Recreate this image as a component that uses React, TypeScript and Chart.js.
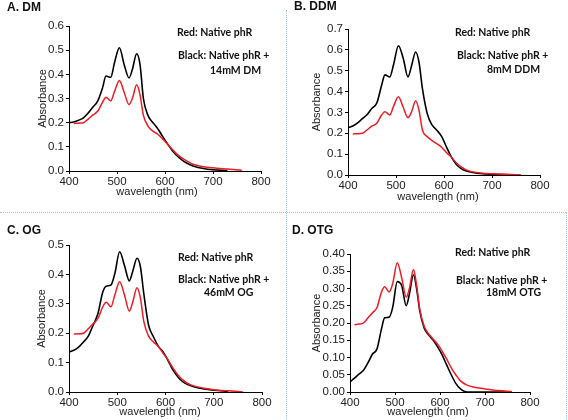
import React, { useEffect, useRef } from "react";
import { Chart, registerables } from "chart.js";
Chart.register(...registerables);

// wavelength grid (nm)
const WAVELENGTHS = [400, 410, 420, 430, 440, 450, 460, 470, 477, 487, 495, 505, 515, 525, 532, 541, 548, 555, 565, 575, 585, 595, 605, 615, 625, 635, 645, 660, 680, 700, 730, 760];

// Panel A (DM)
const NATIVE_A = [null, 0.197, 0.198, 0.2, 0.215, 0.232, 0.248, 0.285, 0.305, 0.29, 0.33, 0.375, 0.325, 0.275, 0.3, 0.357, 0.315, 0.23, 0.185, 0.165, 0.152, 0.133, 0.112, 0.09, 0.07, 0.054, 0.042, 0.027, 0.018, 0.013, 0.008, 0.003];
const DM_14MM = [0.2, 0.203, 0.21, 0.22, 0.24, 0.265, 0.29, 0.345, 0.393, 0.388, 0.45, 0.51, 0.44, 0.385, 0.42, 0.485, 0.44, 0.3, 0.228, 0.2, 0.175, 0.143, 0.113, 0.085, 0.063, 0.046, 0.033, 0.02, 0.01, 0.005, 0.002, null];

// Panel B (DDM)
const NATIVE_B = [null, 0.197, 0.198, 0.2, 0.217, 0.235, 0.248, 0.288, 0.303, 0.288, 0.33, 0.375, 0.325, 0.275, 0.3, 0.356, 0.31, 0.216, 0.184, 0.165, 0.15, 0.133, 0.108, 0.086, 0.06, 0.04, 0.026, 0.015, 0.009, 0.006, 0.003, 0.001];
const DDM_8MM = [0.227, 0.235, 0.25, 0.27, 0.29, 0.32, 0.345, 0.43, 0.48, 0.47, 0.53, 0.62, 0.56, 0.47, 0.52, 0.59, 0.54, 0.415, 0.295, 0.24, 0.215, 0.185, 0.135, 0.088, 0.053, 0.032, 0.02, 0.012, 0.006, 0.003, 0.001, null];

// Panel C (OG)
const NATIVE_C = [null, 0.197, 0.198, 0.2, 0.215, 0.232, 0.25, 0.29, 0.305, 0.29, 0.33, 0.375, 0.33, 0.275, 0.305, 0.355, 0.32, 0.24, 0.19, 0.17, 0.155, 0.132, 0.11, 0.083, 0.06, 0.042, 0.03, 0.02, 0.013, 0.008, 0.004, 0.001];
const OG_46MM = [0.136, 0.142, 0.153, 0.17, 0.19, 0.227, 0.267, 0.34, 0.36, 0.364, 0.403, 0.477, 0.43, 0.378, 0.41, 0.455, 0.426, 0.335, 0.227, 0.188, 0.156, 0.136, 0.108, 0.076, 0.053, 0.036, 0.026, 0.017, 0.01, 0.006, 0.002, null];

// Panel D (OTG)
const NATIVE_D = [null, 0.195, 0.197, 0.2, 0.215, 0.23, 0.245, 0.29, 0.305, 0.29, 0.315, 0.375, 0.33, 0.275, 0.3, 0.355, 0.31, 0.24, 0.19, 0.168, 0.153, 0.138, 0.118, 0.095, 0.07, 0.05, 0.033, 0.02, 0.013, 0.009, 0.004, 0.001];
const OTG_18MM = [0.029, 0.04, 0.052, 0.063, 0.085, 0.11, 0.125, 0.183, 0.215, 0.217, 0.246, 0.32, 0.308, 0.25, 0.284, 0.34, 0.3, 0.235, 0.185, 0.165, 0.15, 0.13, 0.107, 0.078, 0.05, 0.025, 0.01, 0.0, 0.0, 0.0, 0.0, 0.0];

// text
const PANEL_LABELS = ["A. DM", "B. DDM", "C. OG", "D. OTG"];
const RED_LABEL = "Red: Native phR";
const BLACK_LABEL = "Black: Native phR +";
const DETERGENT_LABELS = ["14mM DM", "8mM DDM", "46mM OG", "18mM OTG"];
const X_TITLE = "wavelength (nm)";
const Y_TITLE = "Absorbance";

// y axis settings per panel
const Y_MAX = [0.6, 0.7, 0.5, 0.4];
const Y_STEP = [0.1, 0.1, 0.1, 0.05];
const Y_DECIMALS = [1, 1, 1, 2];
const X_TICKS = [400, 500, 600, 700, 800];

const NATIVE = [NATIVE_A, NATIVE_B, NATIVE_C, NATIVE_D];
const TREATED = [DM_14MM, DDM_8MM, OG_46MM, OTG_18MM];

// layout (relative to each 284x210 panel)
const PANEL_W = 284;
const PANEL_H = 210;
const GEOM = [
  { ox: 0, oy: 0, L: 69, T: 26, R: 261, B: 171, yT: 43, xt: [157, 192], lab: [7, 8], red: [177, 33], blk: [178, 56], det: [210, 71] },
  { ox: 284, oy: 0, L: 64, T: 29, R: 256, B: 175, yT: 33, xt: [154, 197], lab: [10, 7], red: [171, 33], blk: [173, 56], det: [203, 70] },
  { ox: 0, oy: 210, L: 69, T: 35, R: 262, B: 182, yT: 42, xt: [160, 202], lab: [7, 21], red: [178, 48], blk: [178, 70], det: [204, 83] },
  { ox: 284, oy: 210, L: 66, T: 44, R: 246, B: 182, yT: 33, xt: [144, 202], lab: [8, 21], red: [171, 43], blk: [172, 71], det: [202, 83] },
];

const TICK_FONT = { family: "'Liberation Sans', Arial, sans-serif", size: 11.5 };
const ANN_FONT = "bold 10.5px Lato, 'Open Sans', sans-serif";

const textPlugin = {
  id: "panelText",
  afterDraw(chart: any, _args: any, opts: any) {
    const ctx = chart.ctx;
    ctx.save();
    for (const t of opts.items || []) {
      ctx.font = t.font;
      ctx.fillStyle = t.color;
      ctx.textAlign = t.align || "left";
      ctx.textBaseline = "middle";
      ctx.fillText(t.text, t.x, t.y);
    }
    ctx.restore();
  },
};

function Panel({ idx }: { idx: number }) {
  const ref = useRef<HTMLCanvasElement | null>(null);
  useEffect(() => {
    const g = GEOM[idx];
    const toPts = (arr: (number | null)[]) => WAVELENGTHS.map((w, i) => ({ x: w, y: arr[i] }));
    const chart = new Chart(ref.current as HTMLCanvasElement, {
      type: "line",
      data: {
        datasets: [
          {
            data: toPts(NATIVE[idx]) as any,
            borderColor: "#ee1c25",
            borderWidth: 1.5,
            pointRadius: 0,
            cubicInterpolationMode: "monotone",
            fill: false,
          },
          {
            data: toPts(TREATED[idx]) as any,
            borderColor: "#000000",
            borderWidth: 1.6,
            pointRadius: 0,
            cubicInterpolationMode: "monotone",
            fill: false,
          },
        ],
      },
      options: {
        animation: false,
        responsive: false,
        maintainAspectRatio: false,
        layout: { padding: { left: 0, top: g.T, right: PANEL_W - g.R, bottom: 0 } },
        plugins: {
          legend: { display: false },
          tooltip: { enabled: false },
          panelText: {
            items: [
              { text: PANEL_LABELS[idx], x: g.lab[0], y: g.lab[1], font: "bold 12px 'Liberation Sans', Arial, sans-serif", color: "#111" },
              { text: RED_LABEL, x: g.red[0], y: g.red[1], font: ANN_FONT, color: "#111" },
              { text: BLACK_LABEL, x: g.blk[0], y: g.blk[1], font: ANN_FONT, color: "#111" },
              { text: DETERGENT_LABELS[idx], x: g.det[0], y: g.det[1], font: ANN_FONT, color: "#111" },
              { text: X_TITLE, x: g.xt[0], y: g.xt[1], font: "11px 'Liberation Sans', Arial, sans-serif", color: "#222", align: "center" },
            ],
          },
        } as any,
        scales: {
          x: {
            type: "linear",
            min: 400,
            max: 800,
            afterFit: (s: any) => { s.height = PANEL_H - g.B; },
            afterBuildTicks: (s: any) => { s.ticks = X_TICKS.map((v) => ({ value: v })); },
            ticks: { font: TICK_FONT, color: "#222", padding: 1, maxRotation: 0, autoSkip: false },
            grid: { drawOnChartArea: false, drawTicks: true, tickLength: 3, color: "#000" },
            border: { display: true, color: "#000", width: 1 },
          },
          y: {
            type: "linear",
            min: 0,
            max: Y_MAX[idx],
            afterFit: (s: any) => { s.width = g.L; },
            ticks: {
              stepSize: Y_STEP[idx],
              font: TICK_FONT,
              color: "#222",
              padding: 2,
              callback: (v: any) => Number(v).toFixed(Y_DECIMALS[idx]),
            },
            grid: { drawOnChartArea: false, drawTicks: true, tickLength: 3, color: "#000" },
            border: { display: true, color: "#000", width: 1 },
            title: {
              display: true,
              text: Y_TITLE,
              font: { family: "'Liberation Sans', Arial, sans-serif", size: 11 },
              color: "#222",
              padding: { top: g.yT - 6.6, bottom: 0 },
            },
          },
        },
      },
      plugins: [textPlugin as any],
    });
    return () => chart.destroy();
  }, [idx]);
  const g = GEOM[idx];
  return (
    <canvas
      ref={ref}
      width={PANEL_W}
      height={PANEL_H}
      style={{ position: "absolute", left: g.ox, top: g.oy, width: PANEL_W, height: PANEL_H }}
    />
  );
}

export default function App() {
  const dot = "1px dotted #9cc8ef";
  return (
    <div style={{ position: "fixed", left: 0, top: 0, width: 568, height: 420, background: "#fff", overflow: "hidden" }}>
      {[0, 1, 2, 3].map((i) => (
        <Panel key={i} idx={i} />
      ))}
      <div style={{ position: "absolute", left: 0, top: 212, width: 566, height: 0, borderTop: dot, zIndex: 2 }} />
      <div style={{ position: "absolute", left: 286, top: 10, width: 0, height: 410, borderLeft: dot, zIndex: 2 }} />
      <div style={{ position: "absolute", left: 566, top: 212, width: 0, height: 208, borderLeft: dot, zIndex: 2 }} />
    </div>
  );
}
